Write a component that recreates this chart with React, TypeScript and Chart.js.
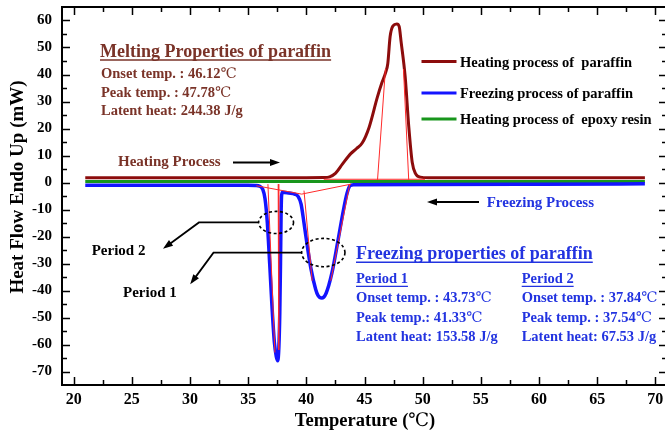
import { useEffect, useRef } from 'react';
import { Chart, registerables } from 'chart.js';

Chart.register(...registerables);

// Axis ticks: temperature (°C) and heat flow (mW)
const TEMP_TICKS = [20, 25, 30, 35, 40, 45, 50, 55, 60, 65, 70];
const FLOW_TICKS = [-70, -60, -50, -40, -30, -20, -10, 0, 10, 20, 30, 40, 50, 60];

// DSC heating scan of paraffin
const heatingTemp = [21, 30, 40, 41.5, 42.0, 42.5, 43.1, 43.8, 44.3, 44.8, 45.4, 46.1, 46.5, 46.8, 47.0, 47.2, 47.45, 47.78, 47.98, 48.15, 48.5, 48.8, 49.1, 49.4, 49.8, 50.5, 60, 69.1];
const heatingFlow = [1.8, 1.8, 1.8, 1.85, 2.1, 3.4, 6.8, 10.6, 12.5, 14.6, 20.5, 31.5, 37, 40.5, 44, 54, 58, 58.7, 57.8, 52, 39, 21, 7.5, 3.2, 2.0, 1.8, 1.8, 1.8];

// DSC cooling scan of paraffin (two crystallisation periods)
const freezingTemp = [21, 30, 35.0, 35.6, 36.0, 36.25, 36.45, 36.65, 36.85, 37.05, 37.25, 37.42, 37.54, 37.64, 37.72, 37.78, 37.83, 37.87, 37.95, 38.5, 39.0, 39.3, 39.55, 39.8, 40.1, 40.4, 40.8, 41.0, 41.33, 41.7, 42.2, 42.7, 43.2, 43.5, 43.75, 44.05, 50, 60, 69.1];
const freezingFlow = [-1.0, -1.0, -1.0, -1.1, -1.4, -2.5, -6, -15, -30, -46, -59, -64.5, -66, -61, -48, -30, -12, -5, -3.6, -3.9, -4.3, -5.2, -8, -15, -24, -32, -39.5, -41.8, -42.8, -41, -33.5, -22, -10, -4, -1.2, -0.8, -0.75, -0.65, -0.5];

// DSC heating scan of epoxy resin
const epoxyTemp = [21, 30, 40, 50, 60, 69.1];
const epoxyFlow = [0.4, 0.4, 0.4, 0.4, 0.4, 0.4];

// Baseline / tangent construction lines used for onset evaluation
const meltBaseline: [number, number][] = [[41.5, 1.2], [50.2, 1.2]];
const meltTangentLeft: [number, number][] = [[46.12, 1.0], [46.8, 42]];
const meltTangentRight: [number, number][] = [[48.8, 1.0], [48.35, 42]];
const freezeBaselineA: [number, number][] = [[35.7, -1.2], [39.6, -4.3]];
const freezeBaselineB: [number, number][] = [[39.6, -4.3], [43.85, -0.6]];
const period2TangentLeft: [number, number][] = [[36.7, -0.6], [37.3, -63]];
const period2TangentRight: [number, number][] = [[37.58, -0.6], [37.63, -62]];
const period1TangentLeft: [number, number][] = [[39.8, -3.0], [40.5, -36.4]];
const period1TangentRight: [number, number][] = [[43.73, -0.7], [42.1, -36.4]];

const HEAT_COLOR = '#8c0c0c';
const FREEZE_COLOR = '#1414ff';
const EPOXY_COLOR = '#18961c';
const GUIDE_COLOR = '#ff2a2a';
const BROWN_TEXT = '#7a3328';
const BLUE_TEXT = '#2233e0';
const SERIF = '"Liberation Serif", "Times New Roman", "Noto Sans CJK SC", serif';
const DEGREE_FONT = '"DejaVu Serif", "Noto Sans CJK SC", serif';

const zip = (xs: number[], ys: number[]) => xs.map((x, i) => ({ x, y: ys[i] }));
const pairs = (p: [number, number][]) => p.map(([x, y]) => ({ x, y }));

const curve = (data: { x: number; y: number }[], color: string, width: number) => ({
  data,
  borderColor: color,
  borderWidth: width,
  pointRadius: 0,
  cubicInterpolationMode: 'monotone' as const,
  fill: false,
  order: 1,
});

const guide = (p: [number, number][]) => ({
  data: pairs(p),
  borderColor: GUIDE_COLOR,
  borderWidth: 1,
  pointRadius: 0,
  tension: 0,
  fill: false,
  order: 0,
});

// Box around the plot with inward major/minor tick marks on all four sides
const framePlugin = {
  id: 'frame',
  afterDatasetsDraw(chart: any) {
    const { ctx, chartArea: a, scales } = chart;
    const xs = scales.x;
    const ys = scales.y;
    ctx.save();
    ctx.strokeStyle = '#000';
    ctx.lineWidth = 1.5;
    ctx.beginPath();
    const xMinor = TEMP_TICKS.slice(1).map((v, i) => (v + TEMP_TICKS[i]) / 2);
    const yMinor = FLOW_TICKS.slice(1).map((v, i) => (v + FLOW_TICKS[i]) / 2);
    const xMarks = [...TEMP_TICKS.map((v) => [v, 8]), ...xMinor.map((v) => [v, 5])];
    const yMarks = [...FLOW_TICKS.map((v) => [v, 8]), ...yMinor.map((v) => [v, 5])];
    for (const [v, len] of xMarks) {
      const p = Math.round(xs.getPixelForValue(v)) + 0.5;
      ctx.moveTo(p, a.bottom);
      ctx.lineTo(p, a.bottom - len);
      ctx.moveTo(p, a.top);
      ctx.lineTo(p, a.top + len);
    }
    for (const [v, len] of yMarks) {
      const p = Math.round(ys.getPixelForValue(v)) + 0.5;
      ctx.moveTo(a.left, p);
      ctx.lineTo(a.left + len, p);
      ctx.moveTo(a.right, p);
      ctx.lineTo(a.right - len, p);
    }
    ctx.stroke();
    ctx.lineWidth = 2;
    ctx.strokeRect(a.left, a.top, a.right - a.left, a.bottom - a.top);
    ctx.restore();
  },
};

// Bold serif text; the degree-Celsius sign is set in a lighter face
function drawText(ctx: CanvasRenderingContext2D, s: string, x: number, y: number, size: number, color: string, underline = false, align: 'left' | 'center' = 'left') {
  ctx.fillStyle = color;
  ctx.textAlign = 'left';
  ctx.textBaseline = 'alphabetic';
  const parts = s.split(/(℃)/).filter((p) => p.length > 0);
  const fontFor = (p: string) => (p === '℃' ? `${size}px ${DEGREE_FONT}` : `bold ${size}px ${SERIF}`);
  let total = 0;
  for (const p of parts) {
    ctx.font = fontFor(p);
    total += ctx.measureText(p).width;
  }
  let cx = align === 'center' ? x - total / 2 : x;
  const start = cx;
  for (const p of parts) {
    ctx.font = fontFor(p);
    ctx.fillText(p, cx, y);
    cx += ctx.measureText(p).width;
  }
  if (underline) {
    ctx.strokeStyle = color;
    ctx.lineWidth = size > 16 ? 1.6 : 1.3;
    ctx.beginPath();
    ctx.moveTo(start, y + 3);
    ctx.lineTo(start + total, y + 3);
    ctx.stroke();
  }
}

function arrowHead(ctx: CanvasRenderingContext2D, fx: number, fy: number, tx: number, ty: number, len: number, half: number) {
  const ang = Math.atan2(ty - fy, tx - fx);
  ctx.beginPath();
  ctx.moveTo(tx, ty);
  ctx.lineTo(tx - len * Math.cos(ang) + half * Math.sin(ang), ty - len * Math.sin(ang) - half * Math.cos(ang));
  ctx.lineTo(tx - len * Math.cos(ang) - half * Math.sin(ang), ty - len * Math.sin(ang) + half * Math.cos(ang));
  ctx.closePath();
  ctx.fill();
}

// Legend, property notes, process arrows and period callouts
const notesPlugin = {
  id: 'notes',
  afterDraw(chart: any) {
    const { ctx, scales } = chart;
    const X = (t: number) => scales.x.getPixelForValue(t);
    const Y = (v: number) => scales.y.getPixelForValue(v);
    ctx.save();

    // axis titles
    drawText(ctx, 'Temperature (℃)', 365, 425.5, 18.5, '#000', false, 'center');
    ctx.save();
    ctx.translate(23, 187);
    ctx.rotate(-Math.PI / 2);
    drawText(ctx, 'Heat Flow Endo Up (mW)', 0, 0, 19, '#000', false, 'center');
    ctx.restore();

    // legend
    const legend: [string, string, number][] = [
      ['Heating process of  paraffin', HEAT_COLOR, 66.5],
      ['Freezing process of paraffin', FREEZE_COLOR, 98],
      ['Heating process of  epoxy resin', EPOXY_COLOR, 124],
    ];
    for (const [label, color, by] of legend) {
      ctx.strokeStyle = color;
      ctx.lineWidth = 3;
      ctx.beginPath();
      ctx.moveTo(421.5, by - 5);
      ctx.lineTo(456.5, by - 5);
      ctx.stroke();
      drawText(ctx, label, 460, by, 14.5, '#000');
    }

    // melting properties
    drawText(ctx, 'Melting Properties of paraffin', 100, 57, 18, BROWN_TEXT, true);
    drawText(ctx, 'Onset temp. : 46.12℃', 101, 77.5, 14.5, BROWN_TEXT);
    drawText(ctx, 'Peak temp. : 47.78℃', 101, 96.7, 14.5, BROWN_TEXT);
    drawText(ctx, 'Latent heat: 244.38 J/g', 101, 115.3, 14.5, BROWN_TEXT);

    // freezing properties
    drawText(ctx, 'Freezing properties of paraffin', 356, 259.3, 18, BLUE_TEXT, true);
    drawText(ctx, 'Period 1', 356, 283.3, 14.5, BLUE_TEXT, true);
    drawText(ctx, 'Onset temp. : 43.73℃', 356, 302.3, 14.5, BLUE_TEXT);
    drawText(ctx, 'Peak temp.: 41.33℃', 356, 321.7, 14.5, BLUE_TEXT);
    drawText(ctx, 'Latent heat: 153.58 J/g', 356, 341, 14.5, BLUE_TEXT);
    drawText(ctx, 'Period 2', 521.7, 283.3, 14.5, BLUE_TEXT, true);
    drawText(ctx, 'Onset temp. : 37.84℃', 521.7, 302.3, 14.5, BLUE_TEXT);
    drawText(ctx, 'Peak temp. : 37.54℃', 521.7, 321.7, 14.5, BLUE_TEXT);
    drawText(ctx, 'Latent heat: 67.53 J/g', 521.7, 341, 14.5, BLUE_TEXT);

    // process direction arrows
    drawText(ctx, 'Heating Process', 118, 165.7, 15, BROWN_TEXT);
    drawText(ctx, 'Freezing Process', 486.7, 206.7, 15, BLUE_TEXT);
    ctx.strokeStyle = '#000';
    ctx.fillStyle = '#000';
    ctx.lineWidth = 2;
    ctx.beginPath();
    ctx.moveTo(233, 162.5);
    ctx.lineTo(272, 162.5);
    ctx.moveTo(479, 202);
    ctx.lineTo(435, 202);
    ctx.stroke();
    arrowHead(ctx, 233, 162.5, 280, 162.5, 10, 3.5);
    arrowHead(ctx, 479, 202, 427, 202, 10, 3.5);

    // dashed callout ellipses
    ctx.setLineDash([3, 2.5]);
    ctx.lineWidth = 1.6;
    const ellipses: [number, number, number, number][] = [
      [37.4, -14.8, 1.5, 4.1],
      [41.46, -25.95, 1.86, 5.25],
    ];
    for (const [ct, cv, rt, rv] of ellipses) {
      ctx.beginPath();
      ctx.ellipse(X(ct), Y(cv), X(ct + rt) - X(ct), Y(cv - rv) - Y(cv), 0, 0, Math.PI * 2);
      ctx.stroke();
    }
    ctx.setLineDash([]);

    // leader lines to the period labels
    const leaders: [number, number][][] = [
      [[35.9, -14.8], [30.77, -14.8], [27.68, -24.55]],
      [[39.6, -26.0], [32.02, -26.0], [30.02, -37.7]],
    ];
    ctx.lineWidth = 1.8;
    ctx.fillStyle = '#000';
    for (const pts of leaders) {
      const [p0, p1, p2] = pts.map(([t, v]) => [X(t), Y(v)]);
      const ang = Math.atan2(p2[1] - p1[1], p2[0] - p1[0]);
      ctx.beginPath();
      ctx.moveTo(p0[0], p0[1]);
      ctx.lineTo(p1[0], p1[1]);
      ctx.lineTo(p2[0] - 7 * Math.cos(ang), p2[1] - 7 * Math.sin(ang));
      ctx.stroke();
      arrowHead(ctx, p1[0], p1[1], p2[0], p2[1], 10, 3.5);
    }
    drawText(ctx, 'Period 2', 91.7, 255, 15, '#000');
    drawText(ctx, 'Period 1', 123, 296.7, 15, '#000');

    ctx.restore();
  },
};

const noScalePadding = (s: any) => {
  s.paddingTop = 0;
  s.paddingBottom = 0;
  s.paddingLeft = 0;
  s.paddingRight = 0;
};

export default function App() {
  const ref = useRef<HTMLCanvasElement>(null);

  useEffect(() => {
    const canvas = ref.current;
    if (!canvas) return;
    const tickFont = (size: number) => ({ family: SERIF, size, weight: 'bold' as const });
    const chart = new Chart(canvas, {
      type: 'line',
      data: {
        datasets: [
          guide(meltBaseline),
          guide(meltTangentLeft),
          guide(meltTangentRight),
          guide(freezeBaselineA),
          guide(freezeBaselineB),
          guide(period2TangentLeft),
          guide(period2TangentRight),
          guide(period1TangentLeft),
          guide(period1TangentRight),
          curve(zip(heatingTemp, heatingFlow), HEAT_COLOR, 3),
          curve(zip(freezingTemp, freezingFlow), FREEZE_COLOR, 3.5),
          curve(zip(epoxyTemp, epoxyFlow), EPOXY_COLOR, 3),
        ],
      },
      options: {
        responsive: false,
        animation: false,
        parsing: false,
        layout: { padding: { top: 7, right: 13, left: 0, bottom: 0 } },
        plugins: { legend: { display: false }, tooltip: { enabled: false } },
        scales: {
          x: {
            type: 'linear',
            min: 19,
            max: 71,
            grid: { display: false, drawTicks: false },
            border: { display: false },
            ticks: { font: tickFont(16), color: '#000', padding: 5, maxRotation: 0 },
            afterBuildTicks: (s: any) => { s.ticks = TEMP_TICKS.map((value) => ({ value })); },
            afterFit: (s: any) => { s.height = 48; noScalePadding(s); },
          },
          y: {
            type: 'linear',
            min: -75,
            max: 65,
            grid: { display: false, drawTicks: false },
            border: { display: false },
            ticks: { font: tickFont(15), color: '#000', padding: 10 },
            afterBuildTicks: (s: any) => { s.ticks = FLOW_TICKS.map((value) => ({ value })); },
            afterFit: (s: any) => { s.width = 62; noScalePadding(s); },
          },
        },
      },
      plugins: [framePlugin, notesPlugin],
    } as any);
    return () => chart.destroy();
  }, []);

  return (
    <div style={{ position: 'absolute', left: 0, top: 0, width: 665, height: 433, overflow: 'hidden', background: '#fff' }}>
      <canvas ref={ref} width={680} height={433} style={{ display: 'block', width: 680, height: 433 }} />
    </div>
  );
}
